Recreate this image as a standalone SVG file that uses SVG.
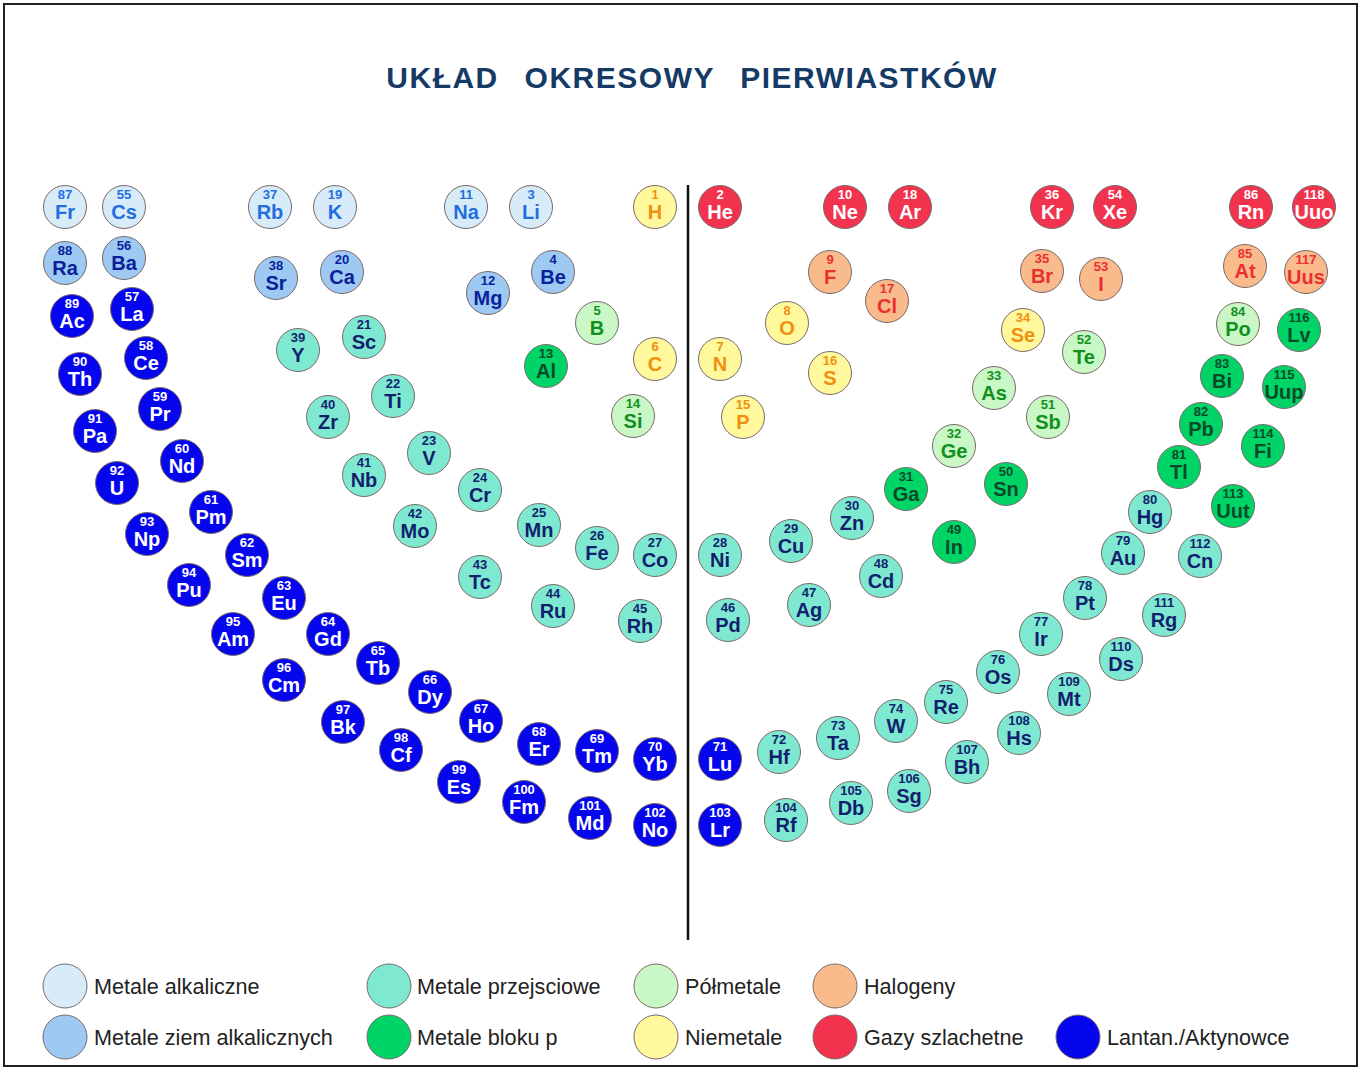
<svg xmlns="http://www.w3.org/2000/svg" width="1362" height="1069" viewBox="0 0 1362 1069">
<style>
circle{stroke:#7a6a6a;stroke-width:1}
text{font-family:"Liberation Sans",Arial,sans-serif;font-weight:bold;text-anchor:middle}
.n{font-size:13px}.s{font-size:20px}
.al circle{fill:#d8ebf9}.al text{fill:#1f6fe0}
.ae circle{fill:#9dc9f2}.ae text{fill:#0a1f9a}
.tm circle{fill:#7ee9d0}.tm text{fill:#121f6e}
.pb circle{fill:#00d466}.pb text{fill:#0a4a2a}
.md circle{fill:#c9f7c6}.md text{fill:#109020}
.nm circle{fill:#fff89c}.nm text{fill:#f09010}
.ha circle{fill:#f9bb8c}.ha text{fill:#e83030}
.ng circle{fill:#f2334e}.ng text{fill:#ffffff}
.la circle{fill:#0505ee}.la text{fill:#ffffff}
.lg{font-weight:normal;font-size:21.6px;text-anchor:start;fill:#222}
</style>
<rect x="4" y="4" width="1353" height="1062" fill="#fff" stroke="#222" stroke-width="2"/>
<text x="692" y="88" style="font-size:30px;fill:#163a66;letter-spacing:1.5px;word-spacing:16px">UKŁAD OKRESOWY PIERWIASTKÓW</text>
<g id="connectors"><line x1="688" y1="185" x2="688" y2="940" stroke="#111" stroke-width="2.5"/></g>
<g id="nodes">
<g id="e87" class="al" transform="translate(65,207)"><circle r="21.5"/><text class="n" y="-8">87</text><text class="s" y="12">Fr</text></g>
<g id="e55" class="al" transform="translate(124,207)"><circle r="21.5"/><text class="n" y="-8">55</text><text class="s" y="12">Cs</text></g>
<g id="e37" class="al" transform="translate(270,207)"><circle r="21.5"/><text class="n" y="-8">37</text><text class="s" y="12">Rb</text></g>
<g id="e19" class="al" transform="translate(335,207)"><circle r="21.5"/><text class="n" y="-8">19</text><text class="s" y="12">K</text></g>
<g id="e11" class="al" transform="translate(466,207)"><circle r="21.5"/><text class="n" y="-8">11</text><text class="s" y="12">Na</text></g>
<g id="e3" class="al" transform="translate(531,207)"><circle r="21.5"/><text class="n" y="-8">3</text><text class="s" y="12">Li</text></g>
<g id="e1" class="nm" transform="translate(655,207)"><circle r="21.5"/><text class="n" y="-8">1</text><text class="s" y="12">H</text></g>
<g id="e2" class="ng" transform="translate(720,207)"><circle r="21.5"/><text class="n" y="-8">2</text><text class="s" y="12">He</text></g>
<g id="e10" class="ng" transform="translate(845,207)"><circle r="21.5"/><text class="n" y="-8">10</text><text class="s" y="12">Ne</text></g>
<g id="e18" class="ng" transform="translate(910,207)"><circle r="21.5"/><text class="n" y="-8">18</text><text class="s" y="12">Ar</text></g>
<g id="e36" class="ng" transform="translate(1052,207)"><circle r="21.5"/><text class="n" y="-8">36</text><text class="s" y="12">Kr</text></g>
<g id="e54" class="ng" transform="translate(1115,207)"><circle r="21.5"/><text class="n" y="-8">54</text><text class="s" y="12">Xe</text></g>
<g id="e86" class="ng" transform="translate(1251,207)"><circle r="21.5"/><text class="n" y="-8">86</text><text class="s" y="12">Rn</text></g>
<g id="e118" class="ng" transform="translate(1314,207)"><circle r="21.5"/><text class="n" y="-8">118</text><text class="s" y="12">Uuo</text></g>
<g id="e88" class="ae" transform="translate(65,263)"><circle r="21.5"/><text class="n" y="-8">88</text><text class="s" y="12">Ra</text></g>
<g id="e56" class="ae" transform="translate(124,258)"><circle r="21.5"/><text class="n" y="-8">56</text><text class="s" y="12">Ba</text></g>
<g id="e38" class="ae" transform="translate(276,278)"><circle r="21.5"/><text class="n" y="-8">38</text><text class="s" y="12">Sr</text></g>
<g id="e20" class="ae" transform="translate(342,272)"><circle r="21.5"/><text class="n" y="-8">20</text><text class="s" y="12">Ca</text></g>
<g id="e12" class="ae" transform="translate(488,293)"><circle r="21.5"/><text class="n" y="-8">12</text><text class="s" y="12">Mg</text></g>
<g id="e4" class="ae" transform="translate(553,272)"><circle r="21.5"/><text class="n" y="-8">4</text><text class="s" y="12">Be</text></g>
<g id="e89" class="la" transform="translate(72,316)"><circle r="21.5"/><text class="n" y="-8">89</text><text class="s" y="12">Ac</text></g>
<g id="e57" class="la" transform="translate(132,309)"><circle r="21.5"/><text class="n" y="-8">57</text><text class="s" y="12">La</text></g>
<g id="e90" class="la" transform="translate(80,374)"><circle r="21.5"/><text class="n" y="-8">90</text><text class="s" y="12">Th</text></g>
<g id="e58" class="la" transform="translate(146,358)"><circle r="21.5"/><text class="n" y="-8">58</text><text class="s" y="12">Ce</text></g>
<g id="e91" class="la" transform="translate(95,431)"><circle r="21.5"/><text class="n" y="-8">91</text><text class="s" y="12">Pa</text></g>
<g id="e59" class="la" transform="translate(160,409)"><circle r="21.5"/><text class="n" y="-8">59</text><text class="s" y="12">Pr</text></g>
<g id="e92" class="la" transform="translate(117,483)"><circle r="21.5"/><text class="n" y="-8">92</text><text class="s" y="12">U</text></g>
<g id="e60" class="la" transform="translate(182,461)"><circle r="21.5"/><text class="n" y="-8">60</text><text class="s" y="12">Nd</text></g>
<g id="e93" class="la" transform="translate(147,534)"><circle r="21.5"/><text class="n" y="-8">93</text><text class="s" y="12">Np</text></g>
<g id="e61" class="la" transform="translate(211,512)"><circle r="21.5"/><text class="n" y="-8">61</text><text class="s" y="12">Pm</text></g>
<g id="e94" class="la" transform="translate(189,585)"><circle r="21.5"/><text class="n" y="-8">94</text><text class="s" y="12">Pu</text></g>
<g id="e62" class="la" transform="translate(247,555)"><circle r="21.5"/><text class="n" y="-8">62</text><text class="s" y="12">Sm</text></g>
<g id="e95" class="la" transform="translate(233,634)"><circle r="21.5"/><text class="n" y="-8">95</text><text class="s" y="12">Am</text></g>
<g id="e63" class="la" transform="translate(284,598)"><circle r="21.5"/><text class="n" y="-8">63</text><text class="s" y="12">Eu</text></g>
<g id="e96" class="la" transform="translate(284,680)"><circle r="21.5"/><text class="n" y="-8">96</text><text class="s" y="12">Cm</text></g>
<g id="e64" class="la" transform="translate(328,634)"><circle r="21.5"/><text class="n" y="-8">64</text><text class="s" y="12">Gd</text></g>
<g id="e97" class="la" transform="translate(343,722)"><circle r="21.5"/><text class="n" y="-8">97</text><text class="s" y="12">Bk</text></g>
<g id="e65" class="la" transform="translate(378,663)"><circle r="21.5"/><text class="n" y="-8">65</text><text class="s" y="12">Tb</text></g>
<g id="e98" class="la" transform="translate(401,750)"><circle r="21.5"/><text class="n" y="-8">98</text><text class="s" y="12">Cf</text></g>
<g id="e66" class="la" transform="translate(430,692)"><circle r="21.5"/><text class="n" y="-8">66</text><text class="s" y="12">Dy</text></g>
<g id="e99" class="la" transform="translate(459,782)"><circle r="21.5"/><text class="n" y="-8">99</text><text class="s" y="12">Es</text></g>
<g id="e67" class="la" transform="translate(481,721)"><circle r="21.5"/><text class="n" y="-8">67</text><text class="s" y="12">Ho</text></g>
<g id="e100" class="la" transform="translate(524,802)"><circle r="21.5"/><text class="n" y="-8">100</text><text class="s" y="12">Fm</text></g>
<g id="e68" class="la" transform="translate(539,744)"><circle r="21.5"/><text class="n" y="-8">68</text><text class="s" y="12">Er</text></g>
<g id="e101" class="la" transform="translate(590,818)"><circle r="21.5"/><text class="n" y="-8">101</text><text class="s" y="12">Md</text></g>
<g id="e69" class="la" transform="translate(597,751)"><circle r="21.5"/><text class="n" y="-8">69</text><text class="s" y="12">Tm</text></g>
<g id="e102" class="la" transform="translate(655,825)"><circle r="21.5"/><text class="n" y="-8">102</text><text class="s" y="12">No</text></g>
<g id="e70" class="la" transform="translate(655,759)"><circle r="21.5"/><text class="n" y="-8">70</text><text class="s" y="12">Yb</text></g>
<g id="e103" class="la" transform="translate(720,825)"><circle r="21.5"/><text class="n" y="-8">103</text><text class="s" y="12">Lr</text></g>
<g id="e71" class="la" transform="translate(720,759)"><circle r="21.5"/><text class="n" y="-8">71</text><text class="s" y="12">Lu</text></g>
<g id="e39" class="tm" transform="translate(298,350)"><circle r="21.5"/><text class="n" y="-8">39</text><text class="s" y="12">Y</text></g>
<g id="e21" class="tm" transform="translate(364,337)"><circle r="21.5"/><text class="n" y="-8">21</text><text class="s" y="12">Sc</text></g>
<g id="e40" class="tm" transform="translate(328,417)"><circle r="21.5"/><text class="n" y="-8">40</text><text class="s" y="12">Zr</text></g>
<g id="e22" class="tm" transform="translate(393,396)"><circle r="21.5"/><text class="n" y="-8">22</text><text class="s" y="12">Ti</text></g>
<g id="e41" class="tm" transform="translate(364,475)"><circle r="21.5"/><text class="n" y="-8">41</text><text class="s" y="12">Nb</text></g>
<g id="e23" class="tm" transform="translate(429,453)"><circle r="21.5"/><text class="n" y="-8">23</text><text class="s" y="12">V</text></g>
<g id="e42" class="tm" transform="translate(415,526)"><circle r="21.5"/><text class="n" y="-8">42</text><text class="s" y="12">Mo</text></g>
<g id="e24" class="tm" transform="translate(480,490)"><circle r="21.5"/><text class="n" y="-8">24</text><text class="s" y="12">Cr</text></g>
<g id="e43" class="tm" transform="translate(480,577)"><circle r="21.5"/><text class="n" y="-8">43</text><text class="s" y="12">Tc</text></g>
<g id="e25" class="tm" transform="translate(539,525)"><circle r="21.5"/><text class="n" y="-8">25</text><text class="s" y="12">Mn</text></g>
<g id="e44" class="tm" transform="translate(553,606)"><circle r="21.5"/><text class="n" y="-8">44</text><text class="s" y="12">Ru</text></g>
<g id="e26" class="tm" transform="translate(597,548)"><circle r="21.5"/><text class="n" y="-8">26</text><text class="s" y="12">Fe</text></g>
<g id="e45" class="tm" transform="translate(640,621)"><circle r="21.5"/><text class="n" y="-8">45</text><text class="s" y="12">Rh</text></g>
<g id="e27" class="tm" transform="translate(655,555)"><circle r="21.5"/><text class="n" y="-8">27</text><text class="s" y="12">Co</text></g>
<g id="e5" class="md" transform="translate(597,323)"><circle r="21.5"/><text class="n" y="-8">5</text><text class="s" y="12">B</text></g>
<g id="e13" class="pb" transform="translate(546,366)"><circle r="21.5"/><text class="n" y="-8">13</text><text class="s" y="12">Al</text></g>
<g id="e6" class="nm" transform="translate(655,359)"><circle r="21.5"/><text class="n" y="-8">6</text><text class="s" y="12">C</text></g>
<g id="e14" class="md" transform="translate(633,416)"><circle r="21.5"/><text class="n" y="-8">14</text><text class="s" y="12">Si</text></g>
<g id="e7" class="nm" transform="translate(720,359)"><circle r="21.5"/><text class="n" y="-8">7</text><text class="s" y="12">N</text></g>
<g id="e15" class="nm" transform="translate(743,417)"><circle r="21.5"/><text class="n" y="-8">15</text><text class="s" y="12">P</text></g>
<g id="e8" class="nm" transform="translate(787,323)"><circle r="21.5"/><text class="n" y="-8">8</text><text class="s" y="12">O</text></g>
<g id="e16" class="nm" transform="translate(830,373)"><circle r="21.5"/><text class="n" y="-8">16</text><text class="s" y="12">S</text></g>
<g id="e9" class="ha" transform="translate(830,272)"><circle r="21.5"/><text class="n" y="-8">9</text><text class="s" y="12">F</text></g>
<g id="e17" class="ha" transform="translate(887,301)"><circle r="21.5"/><text class="n" y="-8">17</text><text class="s" y="12">Cl</text></g>
<g id="e35" class="ha" transform="translate(1042,271)"><circle r="21.5"/><text class="n" y="-8">35</text><text class="s" y="12">Br</text></g>
<g id="e53" class="ha" transform="translate(1101,279)"><circle r="21.5"/><text class="n" y="-8">53</text><text class="s" y="12">I</text></g>
<g id="e34" class="nm" transform="translate(1023,330)"><circle r="21.5"/><text class="n" y="-8">34</text><text class="s" y="12">Se</text></g>
<g id="e52" class="md" transform="translate(1084,352)"><circle r="21.5"/><text class="n" y="-8">52</text><text class="s" y="12">Te</text></g>
<g id="e33" class="md" transform="translate(994,388)"><circle r="21.5"/><text class="n" y="-8">33</text><text class="s" y="12">As</text></g>
<g id="e51" class="md" transform="translate(1048,417)"><circle r="21.5"/><text class="n" y="-8">51</text><text class="s" y="12">Sb</text></g>
<g id="e32" class="md" transform="translate(954,446)"><circle r="21.5"/><text class="n" y="-8">32</text><text class="s" y="12">Ge</text></g>
<g id="e50" class="pb" transform="translate(1006,484)"><circle r="21.5"/><text class="n" y="-8">50</text><text class="s" y="12">Sn</text></g>
<g id="e31" class="pb" transform="translate(906,489)"><circle r="21.5"/><text class="n" y="-8">31</text><text class="s" y="12">Ga</text></g>
<g id="e49" class="pb" transform="translate(954,542)"><circle r="21.5"/><text class="n" y="-8">49</text><text class="s" y="12">In</text></g>
<g id="e28" class="tm" transform="translate(720,555)"><circle r="21.5"/><text class="n" y="-8">28</text><text class="s" y="12">Ni</text></g>
<g id="e46" class="tm" transform="translate(728,620)"><circle r="21.5"/><text class="n" y="-8">46</text><text class="s" y="12">Pd</text></g>
<g id="e29" class="tm" transform="translate(791,541)"><circle r="21.5"/><text class="n" y="-8">29</text><text class="s" y="12">Cu</text></g>
<g id="e47" class="tm" transform="translate(809,605)"><circle r="21.5"/><text class="n" y="-8">47</text><text class="s" y="12">Ag</text></g>
<g id="e30" class="tm" transform="translate(852,518)"><circle r="21.5"/><text class="n" y="-8">30</text><text class="s" y="12">Zn</text></g>
<g id="e48" class="tm" transform="translate(881,576)"><circle r="21.5"/><text class="n" y="-8">48</text><text class="s" y="12">Cd</text></g>
<g id="e72" class="tm" transform="translate(779,752)"><circle r="21.5"/><text class="n" y="-8">72</text><text class="s" y="12">Hf</text></g>
<g id="e104" class="tm" transform="translate(786,820)"><circle r="21.5"/><text class="n" y="-8">104</text><text class="s" y="12">Rf</text></g>
<g id="e73" class="tm" transform="translate(838,738)"><circle r="21.5"/><text class="n" y="-8">73</text><text class="s" y="12">Ta</text></g>
<g id="e105" class="tm" transform="translate(851,803)"><circle r="21.5"/><text class="n" y="-8">105</text><text class="s" y="12">Db</text></g>
<g id="e74" class="tm" transform="translate(896,721)"><circle r="21.5"/><text class="n" y="-8">74</text><text class="s" y="12">W</text></g>
<g id="e106" class="tm" transform="translate(909,791)"><circle r="21.5"/><text class="n" y="-8">106</text><text class="s" y="12">Sg</text></g>
<g id="e75" class="tm" transform="translate(946,702)"><circle r="21.5"/><text class="n" y="-8">75</text><text class="s" y="12">Re</text></g>
<g id="e107" class="tm" transform="translate(967,762)"><circle r="21.5"/><text class="n" y="-8">107</text><text class="s" y="12">Bh</text></g>
<g id="e76" class="tm" transform="translate(998,672)"><circle r="21.5"/><text class="n" y="-8">76</text><text class="s" y="12">Os</text></g>
<g id="e108" class="tm" transform="translate(1019,733)"><circle r="21.5"/><text class="n" y="-8">108</text><text class="s" y="12">Hs</text></g>
<g id="e77" class="tm" transform="translate(1041,634)"><circle r="21.5"/><text class="n" y="-8">77</text><text class="s" y="12">Ir</text></g>
<g id="e109" class="tm" transform="translate(1069,694)"><circle r="21.5"/><text class="n" y="-8">109</text><text class="s" y="12">Mt</text></g>
<g id="e78" class="tm" transform="translate(1085,598)"><circle r="21.5"/><text class="n" y="-8">78</text><text class="s" y="12">Pt</text></g>
<g id="e110" class="tm" transform="translate(1121,659)"><circle r="21.5"/><text class="n" y="-8">110</text><text class="s" y="12">Ds</text></g>
<g id="e79" class="tm" transform="translate(1123,553)"><circle r="21.5"/><text class="n" y="-8">79</text><text class="s" y="12">Au</text></g>
<g id="e111" class="tm" transform="translate(1164,615)"><circle r="21.5"/><text class="n" y="-8">111</text><text class="s" y="12">Rg</text></g>
<g id="e80" class="tm" transform="translate(1150,512)"><circle r="21.5"/><text class="n" y="-8">80</text><text class="s" y="12">Hg</text></g>
<g id="e112" class="tm" transform="translate(1200,556)"><circle r="21.5"/><text class="n" y="-8">112</text><text class="s" y="12">Cn</text></g>
<g id="e81" class="pb" transform="translate(1179,467)"><circle r="21.5"/><text class="n" y="-8">81</text><text class="s" y="12">Tl</text></g>
<g id="e113" class="pb" transform="translate(1233,506)"><circle r="21.5"/><text class="n" y="-8">113</text><text class="s" y="12">Uut</text></g>
<g id="e82" class="pb" transform="translate(1201,424)"><circle r="21.5"/><text class="n" y="-8">82</text><text class="s" y="12">Pb</text></g>
<g id="e114" class="pb" transform="translate(1263,446)"><circle r="21.5"/><text class="n" y="-8">114</text><text class="s" y="12">Fi</text></g>
<g id="e83" class="pb" transform="translate(1222,376)"><circle r="21.5"/><text class="n" y="-8">83</text><text class="s" y="12">Bi</text></g>
<g id="e115" class="pb" transform="translate(1284,387)"><circle r="21.5"/><text class="n" y="-8">115</text><text class="s" y="12">Uup</text></g>
<g id="e84" class="md" transform="translate(1238,324)"><circle r="21.5"/><text class="n" y="-8">84</text><text class="s" y="12">Po</text></g>
<g id="e116" class="pb" transform="translate(1299,330)"><circle r="21.5"/><text class="n" y="-8">116</text><text class="s" y="12">Lv</text></g>
<g id="e85" class="ha" transform="translate(1245,266)"><circle r="21.5"/><text class="n" y="-8">85</text><text class="s" y="12">At</text></g>
<g id="e117" class="ha" transform="translate(1306,272)"><circle r="21.5"/><text class="n" y="-8">117</text><text class="s" y="12">Uus</text></g>
</g>
<g id="legend">
<g class="al"><circle cx="65" cy="986" r="22"/></g><text class="lg" x="94" y="994">Metale alkaliczne</text>
<g class="tm"><circle cx="389" cy="986" r="22"/></g><text class="lg" x="417" y="994">Metale przejsciowe</text>
<g class="md"><circle cx="656" cy="986" r="22"/></g><text class="lg" x="685" y="994">Półmetale</text>
<g class="ha"><circle cx="835" cy="986" r="22"/></g><text class="lg" x="864" y="994">Halogeny</text>
<g class="ae"><circle cx="65" cy="1037" r="22"/></g><text class="lg" x="94" y="1045">Metale ziem alkalicznych</text>
<g class="pb"><circle cx="389" cy="1037" r="22"/></g><text class="lg" x="417" y="1045">Metale bloku p</text>
<g class="nm"><circle cx="656" cy="1037" r="22"/></g><text class="lg" x="685" y="1045">Niemetale</text>
<g class="ng"><circle cx="835" cy="1037" r="22"/></g><text class="lg" x="864" y="1045">Gazy szlachetne</text>
<g class="la"><circle cx="1078" cy="1037" r="22"/></g><text class="lg" x="1107" y="1045">Lantan./Aktynowce</text>
</g>
</svg>
